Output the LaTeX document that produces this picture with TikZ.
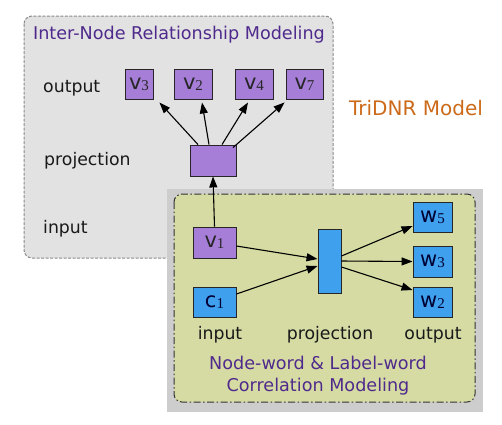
\documentclass[tikz,border=0pt]{standalone}
\usepackage{fontspec}
\setmainfont{DejaVu Sans}
\newfontfamily\serifdig{Liberation Serif}
\usetikzlibrary{arrows.meta}
\definecolor{greyfill}{HTML}{E2E2E2}
\definecolor{greyline}{HTML}{8A8A8A}
\definecolor{greenfill}{HTML}{D5DBA3}
\definecolor{shadowg}{HTML}{CDCDCD}
\definecolor{purpfill}{HTML}{A67ED8}
\definecolor{bluefill}{HTML}{3FA0EE}
\definecolor{titlepurp}{HTML}{4F2A8C}
\definecolor{orangetxt}{HTML}{CC6A1A}
\newcommand{\sub}[2]{#1\raisebox{-1pt}{\serifdig\fontsize{15}{15}\selectfont #2}}
\begin{document}
\begin{tikzpicture}[x=1pt,y=-1pt,
  pbox/.style={draw=black!85,line width=0.9pt,fill=purpfill,inner sep=0pt,minimum height=30pt,font=\fontsize{21}{21}\selectfont,text=black!85},
  bbox/.style={draw=black!85,line width=0.9pt,fill=bluefill,inner sep=0pt,minimum height=30pt,font=\fontsize{21}{21}\selectfont,text=black!80!blue},
  lbl/.style={font=\fontsize{17.3}{17.3}\selectfont,text=black!90,inner sep=0pt},
  ttl/.style={font=\fontsize{17.6}{22}\selectfont,text=titlepurp,inner sep=0pt,align=center},
  arr/.style={line width=1.1pt,-{Triangle[length=11pt,width=8pt]}}]
\useasboundingbox (0,0) rectangle (502,424);
% top box
\draw[fill=greyfill,draw=greyline,line width=1pt,dash pattern=on 3pt off 1.5pt,rounded corners=8pt] (24,16) rectangle (333,258);
\node[ttl] (t1) at (179,35) {Inter-Node Relationship Modeling};
\node[lbl,anchor=west] (lo) at (43,88) {output};
\node[lbl,anchor=west] (lp) at (44,161) {projection};
\node[lbl,anchor=west] (li) at (43,229) {input};
\node[pbox,minimum width=28pt] (v3) at (139,84) {\sub{v}{3}};
\node[pbox,minimum width=38pt] (v2) at (193,84) {\sub{v}{2}};
\node[pbox,minimum width=38pt] (v4) at (254,84) {\sub{v}{4}};
\node[pbox,minimum width=37pt] (v7) at (304.5,84) {\sub{v}{7}};
\node[pbox,minimum width=46pt,minimum height=31pt] (p1) at (213,160.5) {};
\node[text=orangetxt,font=\fontsize{20}{20}\selectfont,inner sep=0pt] (tri) at (416,108) {TriDNR Model};
% bottom box
\fill[shadowg] (167,189) rectangle (483,412);
\draw[fill=greenfill,draw=black!80,line width=1pt,dash pattern=on 7pt off 2.5pt on 1.5pt off 2.5pt,rounded corners=8pt] (174,194) rectangle (475,402);
\node[pbox,minimum width=43pt,minimum height=31pt] (v1) at (214.5,242.5) {\sub{v}{1}};
\node[bbox,minimum width=43pt] (c1) at (214.5,302) {\sub{c}{1}};
\node[bbox,minimum width=23pt,minimum height=64pt] (p2) at (329.5,261) {};
\node[bbox,minimum width=39pt] (w5) at (432.5,217) {\sub{w}{5}};
\node[bbox,minimum width=39pt,minimum height=31pt] (w3) at (432.5,261.5) {\sub{w}{3}};
\node[bbox,minimum width=39pt] (w2) at (432.5,302) {\sub{w}{2}};
\node[lbl] (bi) at (220,335) {input};
\node[lbl] (bp) at (330,335) {projection};
\node[lbl] (bo) at (433,335) {output};
\node[ttl] (t2) at (318,376) {Node-word \& Label-word\\Correlation Modeling};
% arrows top
\draw[arr] ([xshift=-15pt]p1.north) -- ([xshift=6pt,yshift=-3pt]v3.south east);
\draw[arr] ([xshift=-4pt]p1.north) -- ([xshift=9pt,yshift=-3pt]v2.south);
\draw[arr] ([xshift=9pt]p1.north) -- ([xshift=-6pt,yshift=-3pt]v4.south);
\draw[arr] ([xshift=20pt,yshift=-3pt]p1.north) -- ([xshift=-1pt,yshift=-3pt]v7.south west);
\draw[arr] (v1.north) -- (p1.south);
% arrows bottom
\draw[arr] ([yshift=-3.5pt]v1.east) -- ([yshift=2pt]p2.west);
\draw[arr] ([yshift=8pt]c1.east) -- ([yshift=-5pt]p2.west);
\draw[arr] ([yshift=5pt]p2.east) -- ([yshift=-9pt]w5.west);
\draw[arr] (p2.east) -- (w3.west);
\draw[arr] ([yshift=-6pt]p2.east) -- ([yshift=12pt]w2.west);
\end{tikzpicture}
\end{document}
